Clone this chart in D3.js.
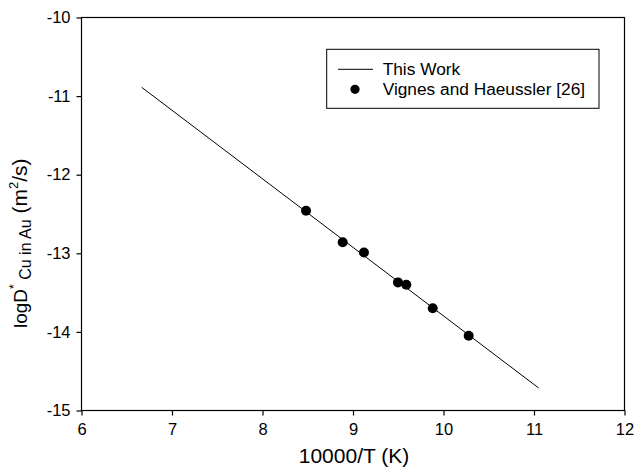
<!DOCTYPE html>
<html><head><meta charset="utf-8">
<script src="https://cdn.jsdelivr.net/npm/d3@7"></script>
<style>
body{margin:0;background:#fff;}
text{font-family:Arial,"Liberation Sans",Helvetica,sans-serif;fill:#000;}
</style></head>
<body>
<svg id="chart" width="637" height="468"></svg>
<script>
// Data
const pointsX = [8.481, 8.886, 9.121, 9.497, 9.589, 9.881, 10.278];
const pointsY = [-12.458, -12.86, -12.99, -13.37, -13.40, -13.70, -14.05];
const fitX = [6.665, 11.052];
const fitY = [-10.888, -14.714];
const xTicks = [6, 7, 8, 9, 10, 11, 12];
const yTicks = [-10, -11, -12, -13, -14, -15];
const legendLabels = ["This Work", "Vignes and Haeussler [26]"];

const svg = d3.select("#chart");
const L = 81.5, R = 624.5, T = 17.5, B = 410.5;
const x = d3.scaleLinear().domain([6, 12]).range([L, R]);
const y = d3.scaleLinear().domain([-15, -10]).range([B, T]);

// frame
svg.append("rect").attr("x", L).attr("y", T).attr("width", R - L).attr("height", B - T)
  .attr("fill", "none").attr("stroke", "#000").attr("stroke-width", 1.2);

const xAxis = svg.append("g").attr("transform", `translate(0,${B})`)
  .call(d3.axisBottom(x).tickValues(xTicks).tickFormat(d3.format("d")).tickSize(5).tickPadding(8));
const yAxis = svg.append("g").attr("transform", `translate(${L},0)`)
  .call(d3.axisLeft(y).tickValues(yTicks).tickFormat(d => d3.format("d")(d).replace("\u2212", "-")).tickSize(5).tickPadding(6));
[xAxis, yAxis].forEach(a => {
  a.select(".domain").remove();
  a.selectAll("line").attr("stroke", "#000").attr("stroke-width", 1.2);
  a.selectAll("text").attr("font-size", 16.5).attr("font-family", "Arial, 'Liberation Sans', sans-serif").attr("fill", "#000");
});

// fit line
const lineData = fitX.map((v, i) => [v, fitY[i]]);
svg.append("path").datum(lineData)
  .attr("d", d3.line().x(d => x(d[0])).y(d => y(d[1])))
  .attr("fill", "none").attr("stroke", "#000").attr("stroke-width", 1);

// points
svg.selectAll("circle.pt").data(pointsX.map((v, i) => [v, pointsY[i]])).enter()
  .append("circle").attr("class", "pt")
  .attr("cx", d => x(d[0])).attr("cy", d => y(d[1])).attr("r", 5).attr("fill", "#000");

// axis titles
svg.append("text").attr("x", (L + R) / 2 + 1).attr("y", 463).attr("text-anchor", "middle")
  .attr("font-size", 21).text("10000/T (K)");

const yt = svg.append("text").attr("transform", "translate(27,328) rotate(-90)")
  .attr("font-size", 19);
yt.append("tspan").text("logD");
yt.append("tspan").attr("dy", -9).attr("font-size", 12).text("*");
yt.append("tspan").attr("dy", 13).attr("font-size", 16).text(" Cu in Au");
yt.append("tspan").attr("dy", -4).attr("font-size", 21).text(" (m");
yt.append("tspan").attr("dy", -9).attr("font-size", 13).text("2");
yt.append("tspan").attr("dy", 9).attr("font-size", 21).text("/s)");

// legend
const lg = svg.append("g");
lg.append("rect").attr("x", 326.7).attr("y", 49.3).attr("width", 272.3).attr("height", 59)
  .attr("fill", "#fff").attr("stroke", "#000").attr("stroke-width", 1);
lg.append("line").attr("x1", 338).attr("x2", 373).attr("y1", 69.3).attr("y2", 69.3)
  .attr("stroke", "#000").attr("stroke-width", 1);
lg.append("circle").attr("cx", 355).attr("cy", 89.3).attr("r", 4.6).attr("fill", "#000");
lg.selectAll("text.lg").data(legendLabels).enter().append("text").attr("class", "lg")
  .attr("x", 382.7).attr("y", (d, i) => 69.3 + i * 20).attr("dy", "0.35em")
  .attr("font-size", 17.3).text(d => d);
</script>
</body></html>
